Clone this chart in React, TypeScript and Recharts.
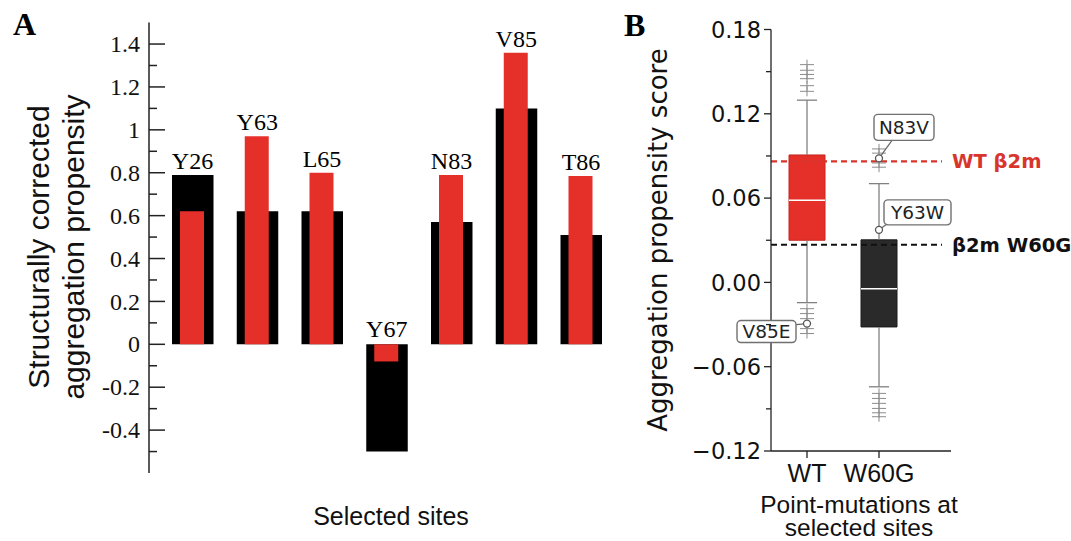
import React from 'react';
import {
  BarChart, Bar, XAxis, YAxis, LabelList,
  ComposedChart, Scatter, ReferenceArea, ReferenceLine,
} from 'recharts';

// Panel A: selected sites, two overlaid bars per site
const sites = ['Y26', 'Y63', 'L65', 'Y67', 'N83', 'V85', 'T86'];
const outerScores = [0.79, 0.62, 0.62, -0.5, 0.57, 1.1, 0.51];
const innerScores = [0.62, 0.97, 0.8, -0.08, 0.79, 1.36, 0.785];
const ticksA = [-0.5, -0.4, -0.3, -0.2, -0.1, 0, 0.1, 0.2, 0.3, 0.4, 0.5, 0.6, 0.7, 0.8, 0.9, 1, 1.1, 1.2, 1.3, 1.4];

// Panel B: box plots of point mutations
const groups = ['WT', 'W60G'];
const groupPos = [1, 2];
const q1 = [0.03, -0.0317];
const medians = [0.0585, -0.0045];
const q3 = [0.0907, 0.0303];
const whiskerLow = [-0.0144, -0.0743];
const whiskerHigh = [0.1297, 0.0703];
const wtFliers = [0.155, 0.151, 0.148, 0.145, 0.14, 0.136, -0.0187, -0.0222, -0.0258, -0.0329, -0.0364];
const w60gFliers = [0.095, 0.092, 0.085, 0.082, -0.079, -0.0826, -0.0861, -0.0897, -0.0928, -0.0956];
const annotNames = ['N83V', 'Y63W', 'V85E'];
const annotGroup = [2, 2, 1];
const annotScores = [0.0883, 0.0374, -0.0293];
const refNames = ['WT β2m', 'β2m W60G'];
const refScores = [0.0862, 0.0268];
const ticksB = [-0.12, -0.09, -0.06, -0.03, 0, 0.03, 0.06, 0.09, 0.12, 0.15, 0.18];
const tickLabelsB = ['−0.12', '', '−0.06', '', '0.00', '', '0.06', '', '0.12', '', '0.18'];

const RED = '#e5302a';
const AXIS_A_X = 149;
const AXIS_B_X = 151;
const AXIS_B_Y = 451;

const rowsA = sites.map((site, i) => ({
  site,
  outer: outerScores[i],
  inner: innerScores[i],
  labelTop: Math.max(outerScores[i], innerScores[i], 0),
}));

const flierPoints = [
  ...wtFliers.map((y) => ({ x: groupPos[0], y })),
  ...w60gFliers.map((y) => ({ x: groupPos[1], y })),
];
const annotPoints = annotNames.map((name, i) => ({ name, x: annotGroup[i], y: annotScores[i] }));

// where each annotation box sits relative to its point (px)
const annotLayout: Record<string, { bx: number; by: number; w: number; h: number; lx: number; ly: number }> = {
  N83V: { bx: -5, by: -44, w: 60, h: 26, lx: 13, ly: -18 },
  Y63W: { bx: 5, by: -30, w: 67, h: 25, lx: 7, ly: -5 },
  V85E: { bx: -70, by: -3, w: 59, h: 22, lx: -11, ly: 1 },
};

const TickA = (props: any) => {
  const { y, payload } = props;
  const v = payload.value;
  const major = Math.round(v * 10) % 2 === 0;
  return (
    <g>
      <line x1={AXIS_A_X} x2={AXIS_A_X + (major ? 16 : 8)} y1={y} y2={y} stroke="#222" strokeWidth={1.5} />
      {major && (
        <text x={AXIS_A_X - 9} y={y} dy="0.34em" textAnchor="end" fontFamily="Liberation Serif" fontSize={24} fill="#111">
          {String(Math.round(v * 10) / 10)}
        </text>
      )}
    </g>
  );
};

const TickBY = (props: any) => {
  const { y, index } = props;
  const label = tickLabelsB[index];
  return (
    <g>
      <line x1={AXIS_B_X - (label ? 7 : 5)} x2={AXIS_B_X} y1={y} y2={y} stroke="#222" strokeWidth={1.3} />
      {label && (
        <text x={AXIS_B_X - 10} y={y} dy="0.36em" textAnchor="end" fontFamily="DejaVu Sans" fontSize={22.5} fill="#111">
          {label}
        </text>
      )}
    </g>
  );
};

const TickBX = (props: any) => {
  const { x, payload } = props;
  const name = groups[groupPos.indexOf(payload.value)];
  return (
    <g>
      <line x1={x} x2={x} y1={AXIS_B_Y} y2={AXIS_B_Y + 7} stroke="#222" strokeWidth={1.3} />
      <text x={x} y={AXIS_B_Y + 31} textAnchor="middle" fontFamily="Liberation Sans" fontSize={25} fill="#111">
        {name}
      </text>
    </g>
  );
};

const PlusMark = (props: any) => {
  const { cx, cy } = props;
  return (
    <g stroke="#8c8c8c" strokeWidth={1}>
      <line x1={cx - 7} x2={cx + 7} y1={cy} y2={cy} />
      <line x1={cx} x2={cx} y1={cy - 5} y2={cy + 5} />
    </g>
  );
};

const AnnotMark = (props: any) => {
  const { cx, cy, payload } = props;
  const l = annotLayout[payload.name];
  return (
    <g>
      <line x1={cx} y1={cy} x2={cx + l.lx} y2={cy + l.ly} stroke="#666" strokeWidth={1.2} />
      <rect x={cx + l.bx} y={cy + l.by} width={l.w} height={l.h} rx={4} fill="#fff" stroke="#707070" strokeWidth={1.4} />
      <text x={cx + l.bx + l.w / 2} y={cy + l.by + l.h / 2} dy="0.36em" textAnchor="middle" fontFamily="DejaVu Sans" fontSize={18.5} fill="#222">
        {payload.name}
      </text>
      <circle cx={cx} cy={cy} r={3.5} fill="#fff" stroke="#555" strokeWidth={1.3} />
    </g>
  );
};

const boxFill = [RED, '#2a2a2a'];
const boxEdge = ['#c4261f', '#1a1a1a'];
const refColors = ['#d8352c', '#111'];

export default function App() {
  return (
    <div style={{ position: 'absolute', left: 0, top: 0, width: 1071, height: 541, background: '#fff', overflow: 'hidden' }}>
      <div style={{ position: 'absolute', left: 0, top: 0 }}>
        <BarChart width={640} height={541} data={rowsA} margin={{ top: 22.6, right: 26.75, bottom: 68, left: 0 }}>
          <XAxis xAxisId="outer" dataKey="site" hide padding={{ left: 11, right: 0 }} />
          <XAxis xAxisId="inner" dataKey="site" hide padding={{ left: 11, right: 0 }} />
          <XAxis xAxisId="label" dataKey="site" hide padding={{ left: 11, right: 0 }} />
          <YAxis
            type="number"
            width={149}
            domain={[-0.6, 1.5]}
            ticks={ticksA}
            interval={0}
            tickLine={false}
            tick={<TickA />}
            axisLine={{ stroke: '#222', strokeWidth: 1.5 }}
          />
          <Bar xAxisId="outer" dataKey="outer" fill="#000" barSize={41.5} isAnimationActive={false} />
          <Bar xAxisId="inner" dataKey="inner" fill={RED} barSize={24} isAnimationActive={false} />
          <Bar xAxisId="label" dataKey="labelTop" fill="none" barSize={41} minPointSize={1} isAnimationActive={false}>
            <LabelList dataKey="site" position="top" offset={6} fill="#000" fontFamily="Liberation Serif" fontSize={24} />
          </Bar>
        </BarChart>
      </div>

      <div style={{ position: 'absolute', left: 620, top: 0 }}>
        <ComposedChart width={451} height={541} margin={{ top: 29.5, right: 120, bottom: 50, left: 0 }}>
          <XAxis
            type="number"
            dataKey="x"
            domain={[0.5, 3]}
            ticks={groupPos}
            interval={0}
            height={40}
            tickLine={false}
            tick={<TickBX />}
            axisLine={{ stroke: '#222', strokeWidth: 1.3 }}
          />
          <YAxis
            type="number"
            dataKey="y"
            width={AXIS_B_X}
            domain={[-0.12, 0.18]}
            ticks={ticksB}
            interval={0}
            tickLine={false}
            tick={<TickBY />}
            axisLine={{ stroke: '#222', strokeWidth: 1.3 }}
          />
          {groupPos.map((p, i) => (
            <ReferenceLine key={'wl' + i} segment={[{ x: p, y: whiskerLow[i] }, { x: p, y: q1[i] }]} stroke="#808080" strokeWidth={1.3} />
          ))}
          {groupPos.map((p, i) => (
            <ReferenceLine key={'wh' + i} segment={[{ x: p, y: q3[i] }, { x: p, y: whiskerHigh[i] }]} stroke="#808080" strokeWidth={1.3} />
          ))}
          {groupPos.map((p, i) => (
            <ReferenceLine key={'cl' + i} segment={[{ x: p - 0.14, y: whiskerLow[i] }, { x: p + 0.14, y: whiskerLow[i] }]} stroke="#808080" strokeWidth={1.3} />
          ))}
          {groupPos.map((p, i) => (
            <ReferenceLine key={'ch' + i} segment={[{ x: p - 0.14, y: whiskerHigh[i] }, { x: p + 0.14, y: whiskerHigh[i] }]} stroke="#808080" strokeWidth={1.3} />
          ))}
          {groupPos.map((p, i) => (
            <ReferenceArea key={'box' + i} x1={p - 0.25} x2={p + 0.25} y1={q1[i]} y2={q3[i]} fill={boxFill[i]} fillOpacity={1} stroke={boxEdge[i]} strokeWidth={1} />
          ))}
          {groupPos.map((p, i) => (
            <ReferenceLine key={'md' + i} segment={[{ x: p - 0.25, y: medians[i] }, { x: p + 0.25, y: medians[i] }]} stroke="#fff" strokeWidth={1.5} />
          ))}
          {refNames.map((name, i) => (
            <ReferenceLine
              key={name}
              segment={[{ x: 0.5, y: refScores[i] }, { x: 2.875, y: refScores[i] }]}
              stroke={refColors[i]}
              strokeWidth={2.2}
              strokeDasharray="6 4"
              label={{ value: name, position: 'right', offset: 10, fill: refColors[i], fontSize: 19.5, fontWeight: 700, fontFamily: 'DejaVu Sans' }}
            />
          ))}
          <Scatter data={flierPoints} shape={<PlusMark />} isAnimationActive={false} />
          <Scatter data={annotPoints} shape={<AnnotMark />} isAnimationActive={false} />
        </ComposedChart>
      </div>

      <svg width={1071} height={541} style={{ position: 'absolute', left: 0, top: 0, pointerEvents: 'none' }}>
        <text x={13} y={35} fontFamily="Liberation Serif" fontWeight={700} fontSize={32} fill="#000">A</text>
        <text x={624} y={36} fontFamily="Liberation Serif" fontWeight={700} fontSize={32} fill="#000">B</text>
        <g fontFamily="Liberation Sans" fontSize={30} fill="#111" textAnchor="middle">
          <text transform="translate(48.5,247) rotate(-90)">Structurally corrected</text>
          <text transform="translate(83.5,247) rotate(-90)">aggregation propensity</text>
        </g>
        <text x={391} y={525} fontFamily="Liberation Sans" fontSize={25} fill="#111" textAnchor="middle">Selected sites</text>
        <text transform="translate(667,240) rotate(-90)" fontFamily="DejaVu Sans" fontSize={26} fill="#111" textAnchor="middle">
          Aggregation propensity score
        </text>
        <g fontFamily="Liberation Sans" fontSize={24.5} fill="#111" textAnchor="middle">
          <text x={859} y={513}>Point-mutations at</text>
          <text x={859} y={536}>selected sites</text>
        </g>
      </svg>
    </div>
  );
}
